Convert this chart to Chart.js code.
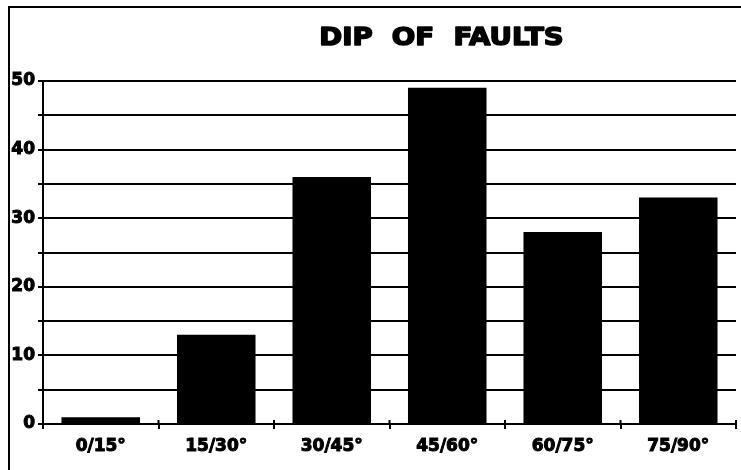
<!DOCTYPE html>
<html>
<head>
<meta charset="utf-8">
<script src="https://cdn.jsdelivr.net/npm/chart.js@4"></script>
<style>
    body { margin: 0; background: #fff; }
    canvas { display: block; }
</style>
</head>
<body>
<canvas id="dipChart" width="741" height="470"></canvas>
<script>
const chartTitle = 'DIP  OF  FAULTS';
const dipClasses = ['0/15°', '15/30°', '30/45°', '45/60°', '60/75°', '75/90°'];
const faultCounts = [1, 13, 36, 49, 28, 33];
const yMin = 0;
const yMax = 50;
const yStep = 5;
const yLabelStep = 10;

const tickFont = { family: 'DejaVu Sans', weight: 'bold', size: 17 };

// frame lines + title box
const framePlugin = {
    id: 'frame',
    beforeDraw(chart) {
        const ctx = chart.ctx;
        ctx.save();
        ctx.fillStyle = '#fff';
        ctx.fillRect(0, 0, chart.width, chart.height);
        ctx.strokeStyle = '#000';
        ctx.lineWidth = 2;
        ctx.beginPath();
        ctx.moveTo(9, chart.height);
        ctx.lineTo(9, 7);
        ctx.lineTo(chart.width, 7);
        ctx.stroke();
        ctx.restore();
    },
    afterDraw(chart) {
        const ctx = chart.ctx;
        const area = chart.chartArea;
        ctx.save();
        ctx.fillStyle = '#000';
        ctx.strokeStyle = '#000';
        ctx.lineWidth = 1.5;
        ctx.lineJoin = 'round';
        ctx.font = 'bold 24px "DejaVu Sans"';
        ctx.textAlign = 'center';
        ctx.textBaseline = 'alphabetic';
        ctx.translate(area.left + area.width * 0.575, 45);
        ctx.scale(1.15, 1);
        ctx.fillText(chartTitle, 0, 0);
        ctx.strokeText(chartTitle, 0, 0);
        ctx.restore();

        // small ticks on the x axis also poke up above the line
        const x = chart.scales.x;
        ctx.save();
        ctx.strokeStyle = '#000';
        ctx.lineWidth = 2;
        ctx.beginPath();
        for (let i = 1; i <= dipClasses.length; i++) {
            const px = x.left + x.width * i / dipClasses.length;
            ctx.moveTo(px, area.bottom - 4);
            ctx.lineTo(px, area.bottom);
        }
        ctx.stroke();
        ctx.restore();
    }
};

const ctx = document.getElementById('dipChart').getContext('2d');
new Chart(ctx, {
    type: 'bar',
    data: {
        labels: dipClasses,
        datasets: [{
            data: faultCounts,
            backgroundColor: '#000',
            borderWidth: 0,
            categoryPercentage: 1,
            barPercentage: 0.68
        }]
    },
    options: {
        responsive: false,
        devicePixelRatio: 1,
        animation: false,
        layout: { padding: { top: 81, right: 5, left: 0, bottom: 0 } },
        plugins: {
            legend: { display: false },
            title: { display: false },
            tooltip: { enabled: false }
        },
        scales: {
            x: {
                afterFit: (scale) => { scale.height = 46; },
                grid: {
                    offset: true,
                    drawOnChartArea: false,
                    color: '#000',
                    lineWidth: 2,
                    tickLength: 5
                },
                border: { display: true, color: '#000', width: 2 },
                ticks: {
                    color: '#000',
                    font: tickFont,
                    padding: 7,
                    maxRotation: 0,
                    textStrokeColor: '#000',
                    textStrokeWidth: 1
                }
            },
            y: {
                min: yMin,
                max: yMax,
                afterFit: (scale) => { scale.width = 43; },
                grid: {
                    color: '#000',
                    lineWidth: 2,
                    tickLength: 5
                },
                border: { display: true, color: '#000', width: 2 },
                ticks: {
                    stepSize: yStep,
                    color: '#000',
                    font: tickFont,
                    padding: 3,
                    textStrokeColor: '#000',
                    textStrokeWidth: 1,
                    callback: (value) => (value % yLabelStep === 0 ? value : '')
                }
            }
        }
    },
    plugins: [framePlugin]
});
</script>
</body>
</html>
